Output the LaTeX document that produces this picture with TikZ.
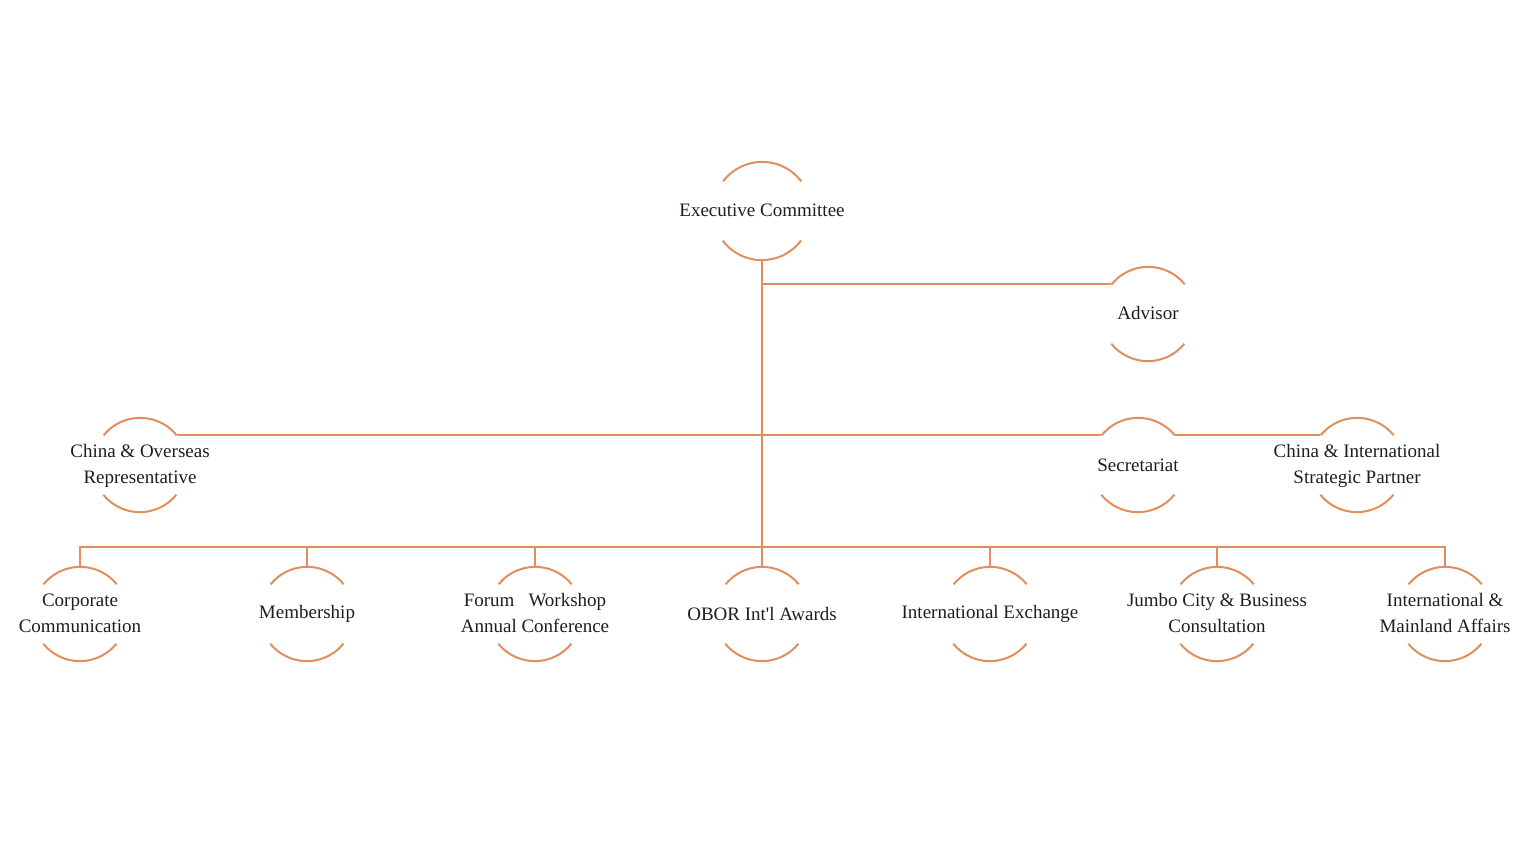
\documentclass[tikz,border=0pt]{standalone}
\usepackage{fontspec}
\setmainfont{Liberation Serif}
\definecolor{org}{RGB}{226,142,92}
\definecolor{txt}{RGB}{30,30,30}
\begin{document}
\begin{tikzpicture}[x=1pt,y=-1pt,
  ring/.style={circle,draw=none,inner sep=0pt,minimum size=94pt},
  bigring/.style={circle,draw=none,inner sep=0pt,minimum size=98pt},
  lbl/.style={align=center,font=\fontsize{19}{26}\selectfont,text=txt,inner sep=0pt},
  conn/.style={draw=org,line width=1.8pt},
  arcline/.style={draw=org,line width=2pt}]
\useasboundingbox (0,0) rectangle (1536,844);
% ring nodes
\node[bigring] (exec) at (762,211) {};
\node[ring] (adv) at (1148,314) {};
\node[ring] (cho) at (140,465) {};
\node[ring] (sec) at (1138,465) {};
\node[ring] (cip) at (1357,465) {};
\node[ring] (cc) at (80,614) {};
\node[ring] (mem) at (307,614) {};
\node[ring] (fwa) at (535,614) {};
\node[ring] (obor) at (762,614) {};
\node[ring] (iex) at (990,614) {};
\node[ring] (jcb) at (1217,614) {};
\node[ring] (ima) at (1445,614) {};
% arcs
\draw[arcline] (exec.37) arc[start angle=37,end angle=143,radius=49pt];
\draw[arcline] (exec.217) arc[start angle=217,end angle=323,radius=49pt];
\foreach \n in {adv,cho,sec,cip,cc,mem,fwa,obor,iex,jcb,ima}{
  \draw[arcline] (\n.39) arc[start angle=39,end angle=141,radius=47pt];
  \draw[arcline] (\n.219) arc[start angle=219,end angle=321,radius=47pt];
}
% labels
\node[lbl] (exec-t) at ([yshift=1pt]exec.center) {Executive Committee};
\node[lbl] (adv-t) at ([yshift=1pt]adv.center) {Advisor};
\node[lbl] (cho-t) at ([yshift=-1pt]cho.center) {China \& Overseas\\Representative};
\node[lbl] (sec-t) at ([yshift=0pt]sec.center) {Secretariat};
\node[lbl] (cip-t) at ([yshift=-1pt]cip.center) {China \& International\\Strategic Partner};
\node[lbl] (cc-t) at ([yshift=1pt]cc.center) {Corporate\\Communication};
\node[lbl] (mem-t) at ([yshift=0pt]mem.center) {Membership};
\node[lbl] (fwa-t) at ([yshift=1pt]fwa.center) {Forum\hspace{14pt}Workshop\\Annual Conference};
\node[lbl] (obor-t) at ([yshift=0pt]obor.center) {OBOR Int\textquotesingle l Awards};
\node[lbl] (iex-t) at ([yshift=0pt]iex.center) {International Exchange};
\node[lbl] (jcb-t) at ([yshift=1pt]jcb.center) {Jumbo City \& Business\\Consultation};
\node[lbl] (ima-t) at ([yshift=1pt]ima.center) {International \&\\Mainland Affairs};
% connectors
\coordinate (bus) at (0,547);
\draw[conn] (exec.south) -- (obor.north);
\draw[conn] (exec.south |- adv.141) -- (adv.141);
\draw[conn] (cho.39) -- (cho.39 -| exec.south) -- (sec.141);
\draw[conn] (sec.39) -- (cip.141);
\draw[conn] (cc.north) -- (cc.north |- bus) -- (ima.north |- bus) -- (ima.north);
\foreach \n in {mem,fwa,iex,jcb}{
  \draw[conn] (\n.north |- bus) -- (\n.north);
}
\end{tikzpicture}
\end{document}
